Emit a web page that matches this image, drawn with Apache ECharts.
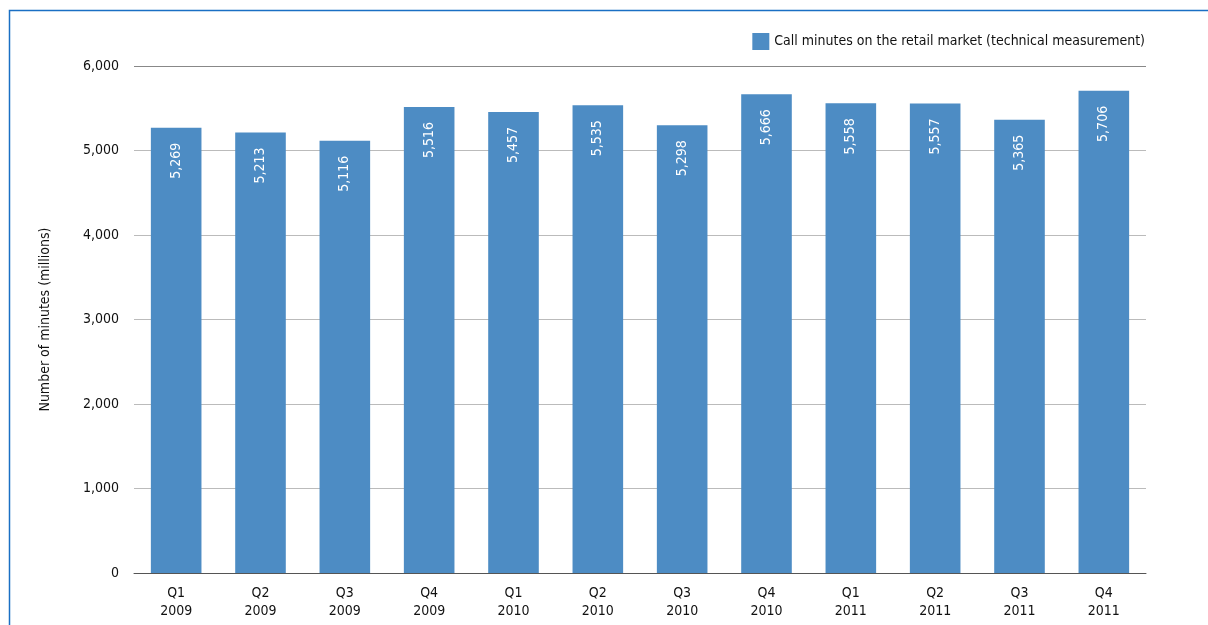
<!DOCTYPE html>
<html><head><meta charset="utf-8">
<script src="https://cdn.jsdelivr.net/npm/echarts@6/dist/echarts.min.js"></script>
<style>html,body{margin:0;padding:0;background:#fff}#c{width:1208px;height:625px}</style>
</head><body><div id="c"></div>
<script>
var categories = ['Q1\n2009','Q2\n2009','Q3\n2009','Q4\n2009','Q1\n2010','Q2\n2010','Q3\n2010','Q4\n2010','Q1\n2011','Q2\n2011','Q3\n2011','Q4\n2011'];
var callMinutes = [5269, 5213, 5116, 5516, 5457, 5535, 5298, 5666, 5558, 5557, 5365, 5706];
var seriesName = 'Call minutes on the retail market (technical measurement)';
var yAxisTitle = 'Number of minutes (millions)';
var F = '"DejaVu Sans Condensed", "Roboto Condensed", "Roboto", sans-serif';
var chart = echarts.init(document.getElementById('c'));
chart.setOption({
  animation: false,
  textStyle: {fontFamily: F},
  graphic: [{type:'rect', shape:{x:9.5,y:10.5,width:1220,height:640}, style:{fill:'none', stroke:'#1a6fc4', lineWidth:1.5}, silent:true}],
  legend: {right: 58, top: 28, itemWidth: 17, itemHeight: 17, itemGap: 6,
    textStyle:{fontFamily:F, fontSize:14, color:'#111'}, data:[{name:seriesName, icon:'rect'}]},
  grid: {left: 134, right: 62, top: 66, bottom: 52},
  xAxis: {type:'category', data: categories,
    axisLine:{lineStyle:{color:'#555', width:1}}, axisTick:{show:false},
    axisLabel:{fontFamily:F, fontSize:14, color:'#111', lineHeight:18, margin:11}},
  yAxis: {type:'value', min:0, max:6000, interval:1000, name: yAxisTitle, nameLocation:'middle', nameGap:82,
    nameTextStyle:{fontFamily:F, fontSize:14, color:'#111'},
    axisLine:{show:false}, axisTick:{show:false},
    axisLabel:{fontFamily:F, fontSize:14, color:'#111', margin:15,
      formatter:function(v){return v.toLocaleString('en-US');}},
    splitLine:{lineStyle:{color:['#888','#bbb','#bbb','#bbb','#bbb','#bbb','#888'], width:1}}},
  series: [{name: seriesName, type:'bar', data: callMinutes, barWidth:'60%',
    itemStyle:{color:'#4d8cc4'},
    label:{show:true, position:'insideTop', rotate:90, align:'right', verticalAlign:'middle', distance:15,
      color:'#fff', fontFamily:F, fontSize:14,
      formatter:function(p){return p.value.toLocaleString('en-US');}}}]
});
</script></body></html>
